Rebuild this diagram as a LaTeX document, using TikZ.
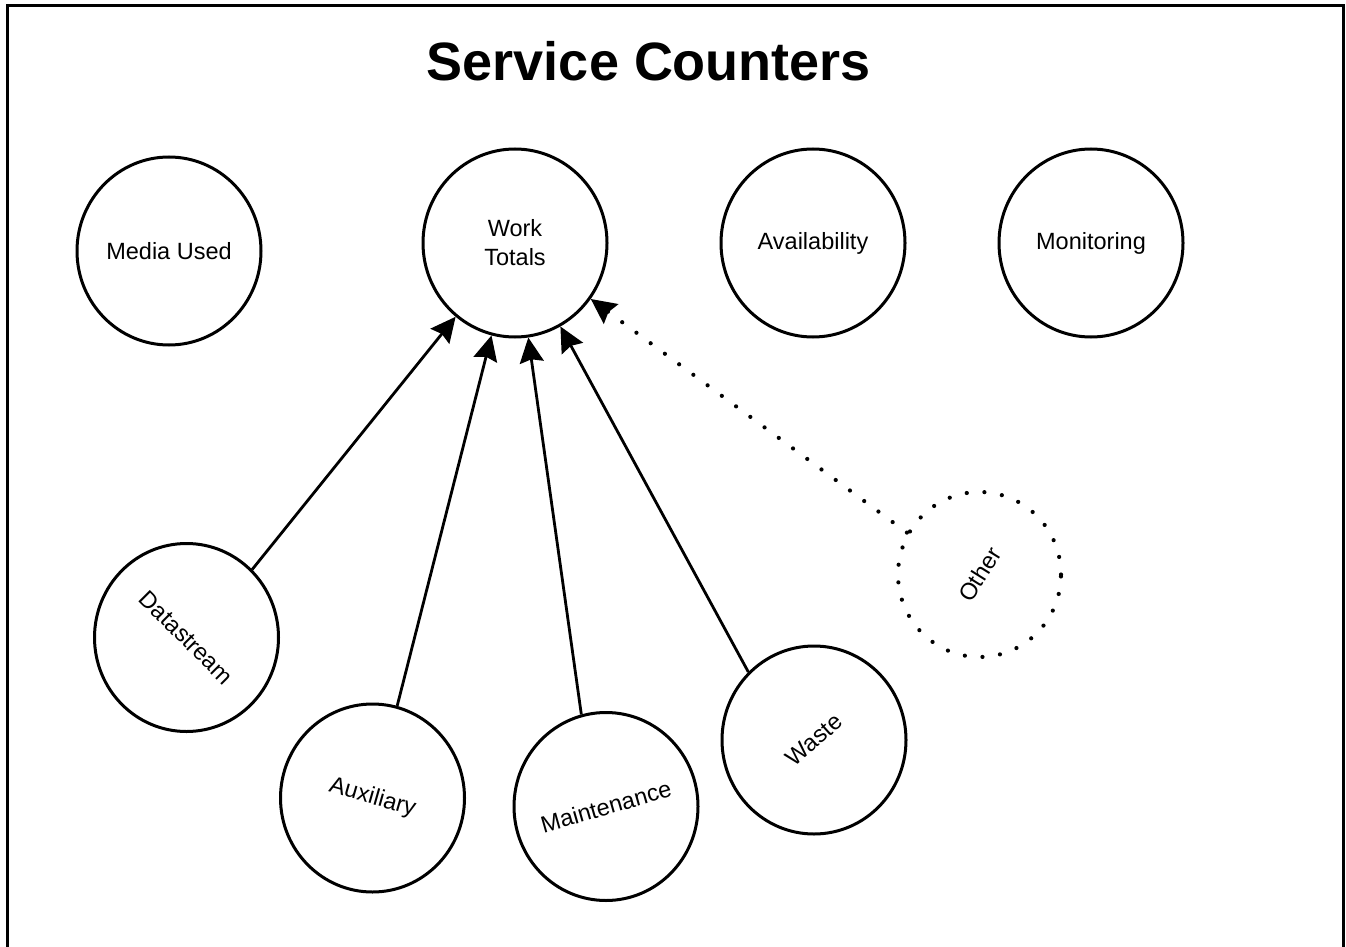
\documentclass[tikz,border=0pt]{standalone}
\usepackage{fontspec}
\setmainfont{Liberation Sans}
\usetikzlibrary{shapes.geometric,arrows.meta}
\begin{document}
\begin{tikzpicture}[x=1pt,y=-1pt,
  bub/.style={draw, line width=3pt, ellipse, minimum width=184pt, minimum height=188pt, inner sep=0pt},
  lab/.style={font=\fontsize{23.5}{29}\selectfont, align=center, inner sep=0pt},
  tipstyle/.style={-{Stealth[length=25pt,width=24pt,inset=3pt]}},
  arr/.style={line width=2.8pt, tipstyle},
  dotline/.style={line width=4.2pt, line cap=round, dash pattern=on 0pt off 17.7pt},
]
\useasboundingbox (0,0) rectangle (1346,947);
\draw[line width=3pt] (7,947) -- (7,5.5) -- (1343,5.5) -- (1343,947);

\node[font=\fontsize{54}{60}\selectfont\bfseries, anchor=base, inner sep=0pt] (title) at (649,81) {Service Counters};

\node[bub] (mu) at (169,251) {};
\node[lab] (mul) at (mu) {Media Used};
\node[bub] (wt) at (515,243) {};
\node[lab] (wtl) at (wt) {Work\\Totals};
\node[bub] (av) at (813,243) {};
\node[lab] (avl) at (av) {Availability};
\node[bub] (mo) at (1091,243) {};
\node[lab] (mol) at (mo) {Monitoring};

\node[bub] (ds) at (186.5,637.5) {};
\node[lab, rotate=-45] (dsl) at (ds) {Datastream};
\node[bub] (au) at (372.5,798) {};
\node[lab, rotate=-16] (aul) at (au) {Auxiliary};
\node[bub] (mt) at (606,806.5) {};
\node[lab, rotate=16] (mtl) at (mt) {Maintenance};
\node[bub] (ws) at (814,740) {};
\node[lab, rotate=42] (wsl) at (ws) {Waste};
\node[draw, ellipse, dotline, minimum width=163pt, minimum height=165pt, inner sep=0pt] (ot) at (979.5,574.5) {};
\node[lab, rotate=58] (otl) at (ot) {Other};

\draw[arr] (ds.46) -- (wt);
\draw[arr] (au.75) -- (wt);
\draw[arr] (mt.105) -- (wt);
\draw[arr] (ws.134) -- (wt);
\draw[dotline, tipstyle] (ot.150) -- (wt);
\end{tikzpicture}
\end{document}
